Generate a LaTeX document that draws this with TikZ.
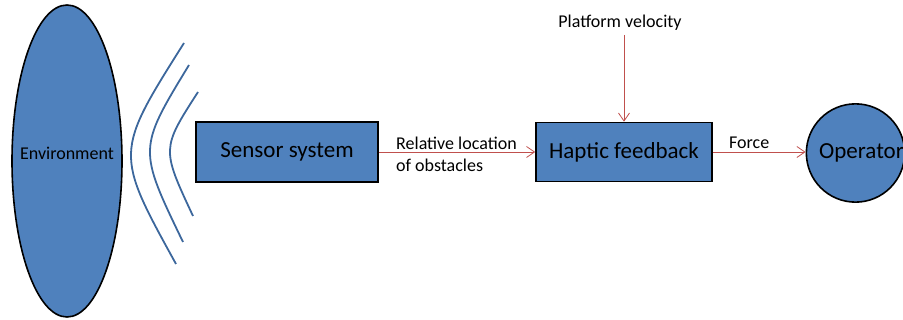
\documentclass[tikz,border=0pt]{standalone}
\usepackage{fontspec}
\setmainfont{Carlito}
\usetikzlibrary{shapes.geometric,arrows.meta}

\definecolor{boxblue}{HTML}{4F81BD}
\definecolor{wavecol}{HTML}{3C679C}
\definecolor{linkred}{HTML}{C0504D}

\tikzset{
  block/.style={draw=black, line width=1.6pt, fill=boxblue, inner sep=0pt, font=\fontsize{23}{27}\selectfont},
  signal/.style={draw=linkred, line width=0.8pt, -{Straight Barb[length=8pt,width=11pt,line width=0.8pt]}},
  sigtext/.style={inner sep=0pt, align=left, font=\fontsize{18}{22}\selectfont},
  wave/.style={draw=wavecol, line width=1.8pt}
}

\begin{document}
\begin{tikzpicture}[x=1pt,y=-1pt]
\useasboundingbox (0,0) rectangle (903,320);

% blocks
\node[block, ellipse, minimum width=110pt, minimum height=312pt] (env) at (67,161) {};
\node[inner sep=0pt, font=\fontsize{18}{22}\selectfont] (envtext) at ([yshift=8pt]env.center) {Environment};
\node[block, minimum width=182pt, minimum height=60pt] (sensor) at (287,152) {Sensor system};
\node[block, minimum width=176pt, minimum height=59pt] (haptic) at (624,152) {Haptic feedback};
\node[block, circle, minimum size=93pt] (oper) at (855.5,153) {\hspace*{12pt}Operator};

% waves
\draw[wave] (184,43) .. controls (114.7,152.8) .. (176,264);
\draw[wave] (189,65) .. controls (138,148.8) .. (183,242);
\draw[wave] (198,92) .. controls (161.5,148.7) .. (193,216);

% signals
\node[sigtext, anchor=north] (velo) at (620,15) {Platform velocity};
\coordinate (velostart) at (624,35);
\draw[signal] (velostart) -- (velostart |- haptic.north);
\draw[signal] (sensor.east) -- (haptic.west);
\node[sigtext, anchor=north west] (rel) at (396,137) {Relative location\\of obstacles};
\draw[signal] (haptic.east) -- (haptic.east -| oper.west);
\node[sigtext, anchor=north west] (force) at (729,137) {Force};
\end{tikzpicture}
\end{document}
